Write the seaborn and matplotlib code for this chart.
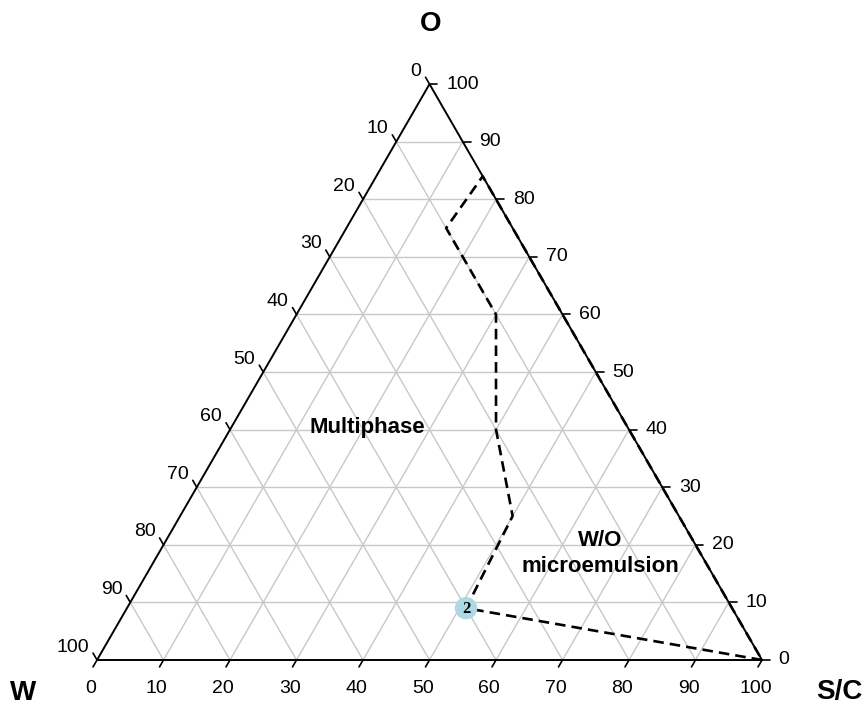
import numpy as np
import pandas as pd
import seaborn as sns
import matplotlib
matplotlib.use("Agg")
import matplotlib.pyplot as plt

# Ternary diagram: W (bottom-left), S/C (bottom-right), O (top)
ticks = list(range(0, 101, 10))

# Phase boundary of the W/O microemulsion region, in (S/C %, O %)
boundary_sc = [100, 51, 50, 40, 30, 15, 16, 100]
boundary_o = [0, 9, 25, 40, 60, 75, 84, 0]

# Formulation point
point_sc = [51]
point_o = [9]
point_label = ["2"]

H = np.sqrt(3) / 2


def cart(sc, o):
    sc = np.asarray(sc, dtype=float)
    o = np.asarray(o, dtype=float)
    return sc + o / 2, o * H


sns.set_style("white")
plt.rcParams["font.family"] = ["Liberation Sans", "DejaVu Sans"]
plt.rcParams["text.color"] = "black"

fig = plt.figure(figsize=(8.68, 7.06), dpi=100)
ax = fig.add_axes([0, 0, 1, 1])
ax.set_xlim(-14.59, 115.94)
ax.set_ylim(-6.917, 99.25)
ax.set_aspect("equal")
ax.axis("off")

# grid
grid_kw = dict(color="#c8c8c8", lw=1, zorder=1)
for k in ticks[1:-1]:
    # constant O
    x, y = cart([0, 100 - k], [k, k])
    ax.plot(x, y, **grid_kw)
    # constant S/C
    x, y = cart([k, k], [0, 100 - k])
    ax.plot(x, y, **grid_kw)
    # constant W
    x, y = cart([k, 0], [0, k])
    ax.plot(x, y, **grid_kw)

# outline
x, y = cart([0, 100, 0, 0], [0, 0, 100, 0])
ax.plot(x, y, color="black", lw=1.4, zorder=2)

# ticks and labels
tl = 1.2
fs = 14
for k in ticks:
    # bottom axis: S/C
    x, y = cart(k, 0)
    ax.plot([x, x - 0.5 * tl], [y, y - H * tl], color="black", lw=1.2)
    ax.text(x - 1.0, -4.3, str(k), ha="center", va="center", fontsize=fs)
    # right axis: O
    x, y = cart(100 - k, k)
    ax.plot([x, x + tl], [y, y], color="black", lw=1.2)
    ax.text(x + 2.5, y, str(k), ha="left", va="center", fontsize=fs)
    # left axis: W
    x, y = cart(0, 100 - k)
    ax.plot([x, x - 0.5 * tl], [y, y + H * tl], color="black", lw=1.2)
    ax.text(x - 1.2, y + 1.95, str(k), ha="right", va="center", fontsize=fs)

# boundary
bx, by = cart(boundary_sc, boundary_o)
df = pd.DataFrame({"x": bx, "y": by})
sns.lineplot(data=df, x="x", y="y", sort=False, estimator=None, ax=ax,
             color="black", lw=1.9, linestyle=(0, (4, 2.3)), zorder=3)

# point
px, py = cart(point_sc, point_o)
sns.scatterplot(x=px, y=py, ax=ax, s=260, color="#add8e6", edgecolor="none", zorder=4)
for xx, yy, lab in zip(px, py, point_label):
    ax.text(xx, yy - 0.15, lab, ha="center", va="center", fontsize=12,
            fontweight="bold", family="Liberation Serif", zorder=5)

ax.set_xlabel("")
ax.set_ylabel("")

# region labels
ax.text(40.6, 34.9, "Multiphase", ha="center", va="center", fontsize=16, fontweight="bold")
ax.text(75.7, 18.0, "W/O", ha="center", va="center", fontsize=16, fontweight="bold")
ax.text(75.7, 14.0, "microemulsion", ha="center", va="center", fontsize=16, fontweight="bold")

# vertex labels
ax.text(50.2, 95.6, "O", ha="center", va="center", fontsize=20, fontweight="bold")
ax.text(-11.1, -5.0, "W", ha="center", va="center", fontsize=20, fontweight="bold")
ax.text(111.7, -4.8, "S/C", ha="center", va="center", fontsize=20, fontweight="bold")

fig.savefig("out.png", dpi=100)
